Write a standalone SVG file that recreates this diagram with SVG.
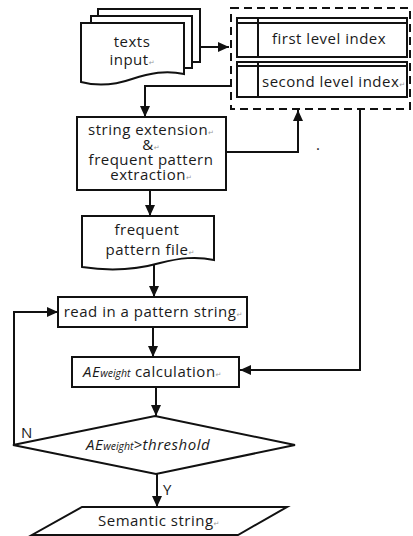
<svg xmlns="http://www.w3.org/2000/svg" width="413" height="536" viewBox="0 0 413 536">
  <style>
    .shape { fill: #fff; stroke: #111; stroke-width: 2; }
    .line { fill: none; stroke: #111; stroke-width: 2; }
    .dash { fill: none; stroke: #111; stroke-width: 2; stroke-dasharray: 8 5; }
    .t { font-family: "Open Sans", "Liberation Sans", sans-serif; font-size: 15px; letter-spacing: 0.5px; fill: #1a1a1a; }
    .c { text-anchor: middle; }
    .it { font-style: italic; }
    .sub { font-size: 10.5px; font-style: italic; letter-spacing: 0; }
    .ret { font-family: "DejaVu Sans", sans-serif; font-size: 7px; fill: #999; letter-spacing: 0; }
  </style>
  <defs>
    <marker id="arrow" markerUnits="userSpaceOnUse" markerWidth="12" markerHeight="10" refX="11" refY="5" orient="auto">
      <path d="M0,0 L11,5 L0,10 z" fill="#111"/>
    </marker>
  </defs>

  <!-- stacked input documents -->
  <g id="texts-input">
    <rect class="shape" x="98" y="9" width="102" height="53"/>
    <rect class="shape" x="91" y="16" width="101" height="52"/>
    <path class="shape" d="M81,23 H184 V74 C166,70 150,73 132,79 C112,86 96,86 81,82 Z"/>
    <text class="t c" x="132" y="47">texts</text>
    <text class="t c" x="132" y="65">input<tspan class="ret">↵</tspan></text>
  </g>

  <!-- two-level index store -->
  <g id="index-store">
    <rect class="dash" x="231" y="8" width="179" height="101"/>
  </g>
  <g id="first-level-index">
    <rect class="shape" x="237" y="18" width="170" height="39"/>
    <path class="line" d="M237,23 H407 M258,18 V57"/>
    <text class="t" x="272" y="44">first level index</text>
  </g>
  <g id="second-level-index">
    <rect class="shape" x="237" y="62" width="170" height="35"/>
    <path class="line" d="M237,66 H407 M258,62 V97"/>
    <text class="t" x="262" y="87">second level index<tspan class="ret">↵</tspan></text>
  </g>

  <g id="string-extension">
    <rect class="shape" x="77" y="117" width="149" height="73"/>
    <text class="t c" x="151" y="135">string extension<tspan class="ret">↵</tspan></text>
    <text class="t c" x="151" y="150">&amp;<tspan class="ret">↵</tspan></text>
    <text class="t c" x="151" y="165">frequent pattern</text>
    <text class="t c" x="151" y="180">extraction<tspan class="ret">↵</tspan></text>
  </g>
  <text class="t" x="316" y="150" font-size="10">.</text>

  <g id="pattern-file">
    <path class="shape" d="M82,216 H214 V260 C196,256 180,258 160,263 C135,270 108,271 82,267 Z"/>
    <text class="t c" x="147" y="235">frequent</text>
    <text class="t c" x="150" y="255">pattern file<tspan class="ret">↵</tspan></text>
  </g>

  <g id="read-pattern">
    <rect class="shape" x="58" y="297" width="189" height="30"/>
    <text class="t c" x="153" y="317">read in a pattern string<tspan class="ret">↵</tspan></text>
  </g>

  <g id="ae-calculation">
    <rect class="shape" x="72" y="357" width="167" height="30"/>
    <text class="t" x="83" y="377"><tspan class="it">AE</tspan><tspan class="sub">weight</tspan> calculation<tspan class="ret">↵</tspan></text>
  </g>

  <g id="threshold-check">
    <path class="shape" d="M155,416 L295,445 L156,474 L13,445 Z"/>
    <text class="t it" x="86" y="450">AE<tspan class="sub">weight</tspan>&gt;threshold</text>
  </g>

  <g id="semantic-string">
    <path class="shape" d="M82,507 H287 L238,535 H32 Z"/>
    <text class="t" x="98" y="526">Semantic string<tspan class="ret">↵</tspan></text>
  </g>

  <g id="connectors">
    <path class="line" d="M200,47 H229" marker-end="url(#arrow)"/>
    <path class="line" d="M231,86 H145 V117" marker-end="url(#arrow)"/>
    <path class="line" d="M226,152 H298 V110" marker-end="url(#arrow)"/>
    <path class="line" d="M360,110 V370 H240" marker-end="url(#arrow)"/>
    <path class="line" d="M150,190 V216" marker-end="url(#arrow)"/>
    <path class="line" d="M154,264 V297" marker-end="url(#arrow)"/>
    <path class="line" d="M153,327 V357" marker-end="url(#arrow)"/>
    <path class="line" d="M156,387 V416" marker-end="url(#arrow)"/>
    <path class="line" d="M14,445 V312 H58" marker-end="url(#arrow)"/>
    <path class="line" d="M157,474 V507" marker-end="url(#arrow)"/>
    <text class="t" x="21" y="438">N</text>
    <text class="t" x="163" y="495">Y</text>
  </g>
</svg>
